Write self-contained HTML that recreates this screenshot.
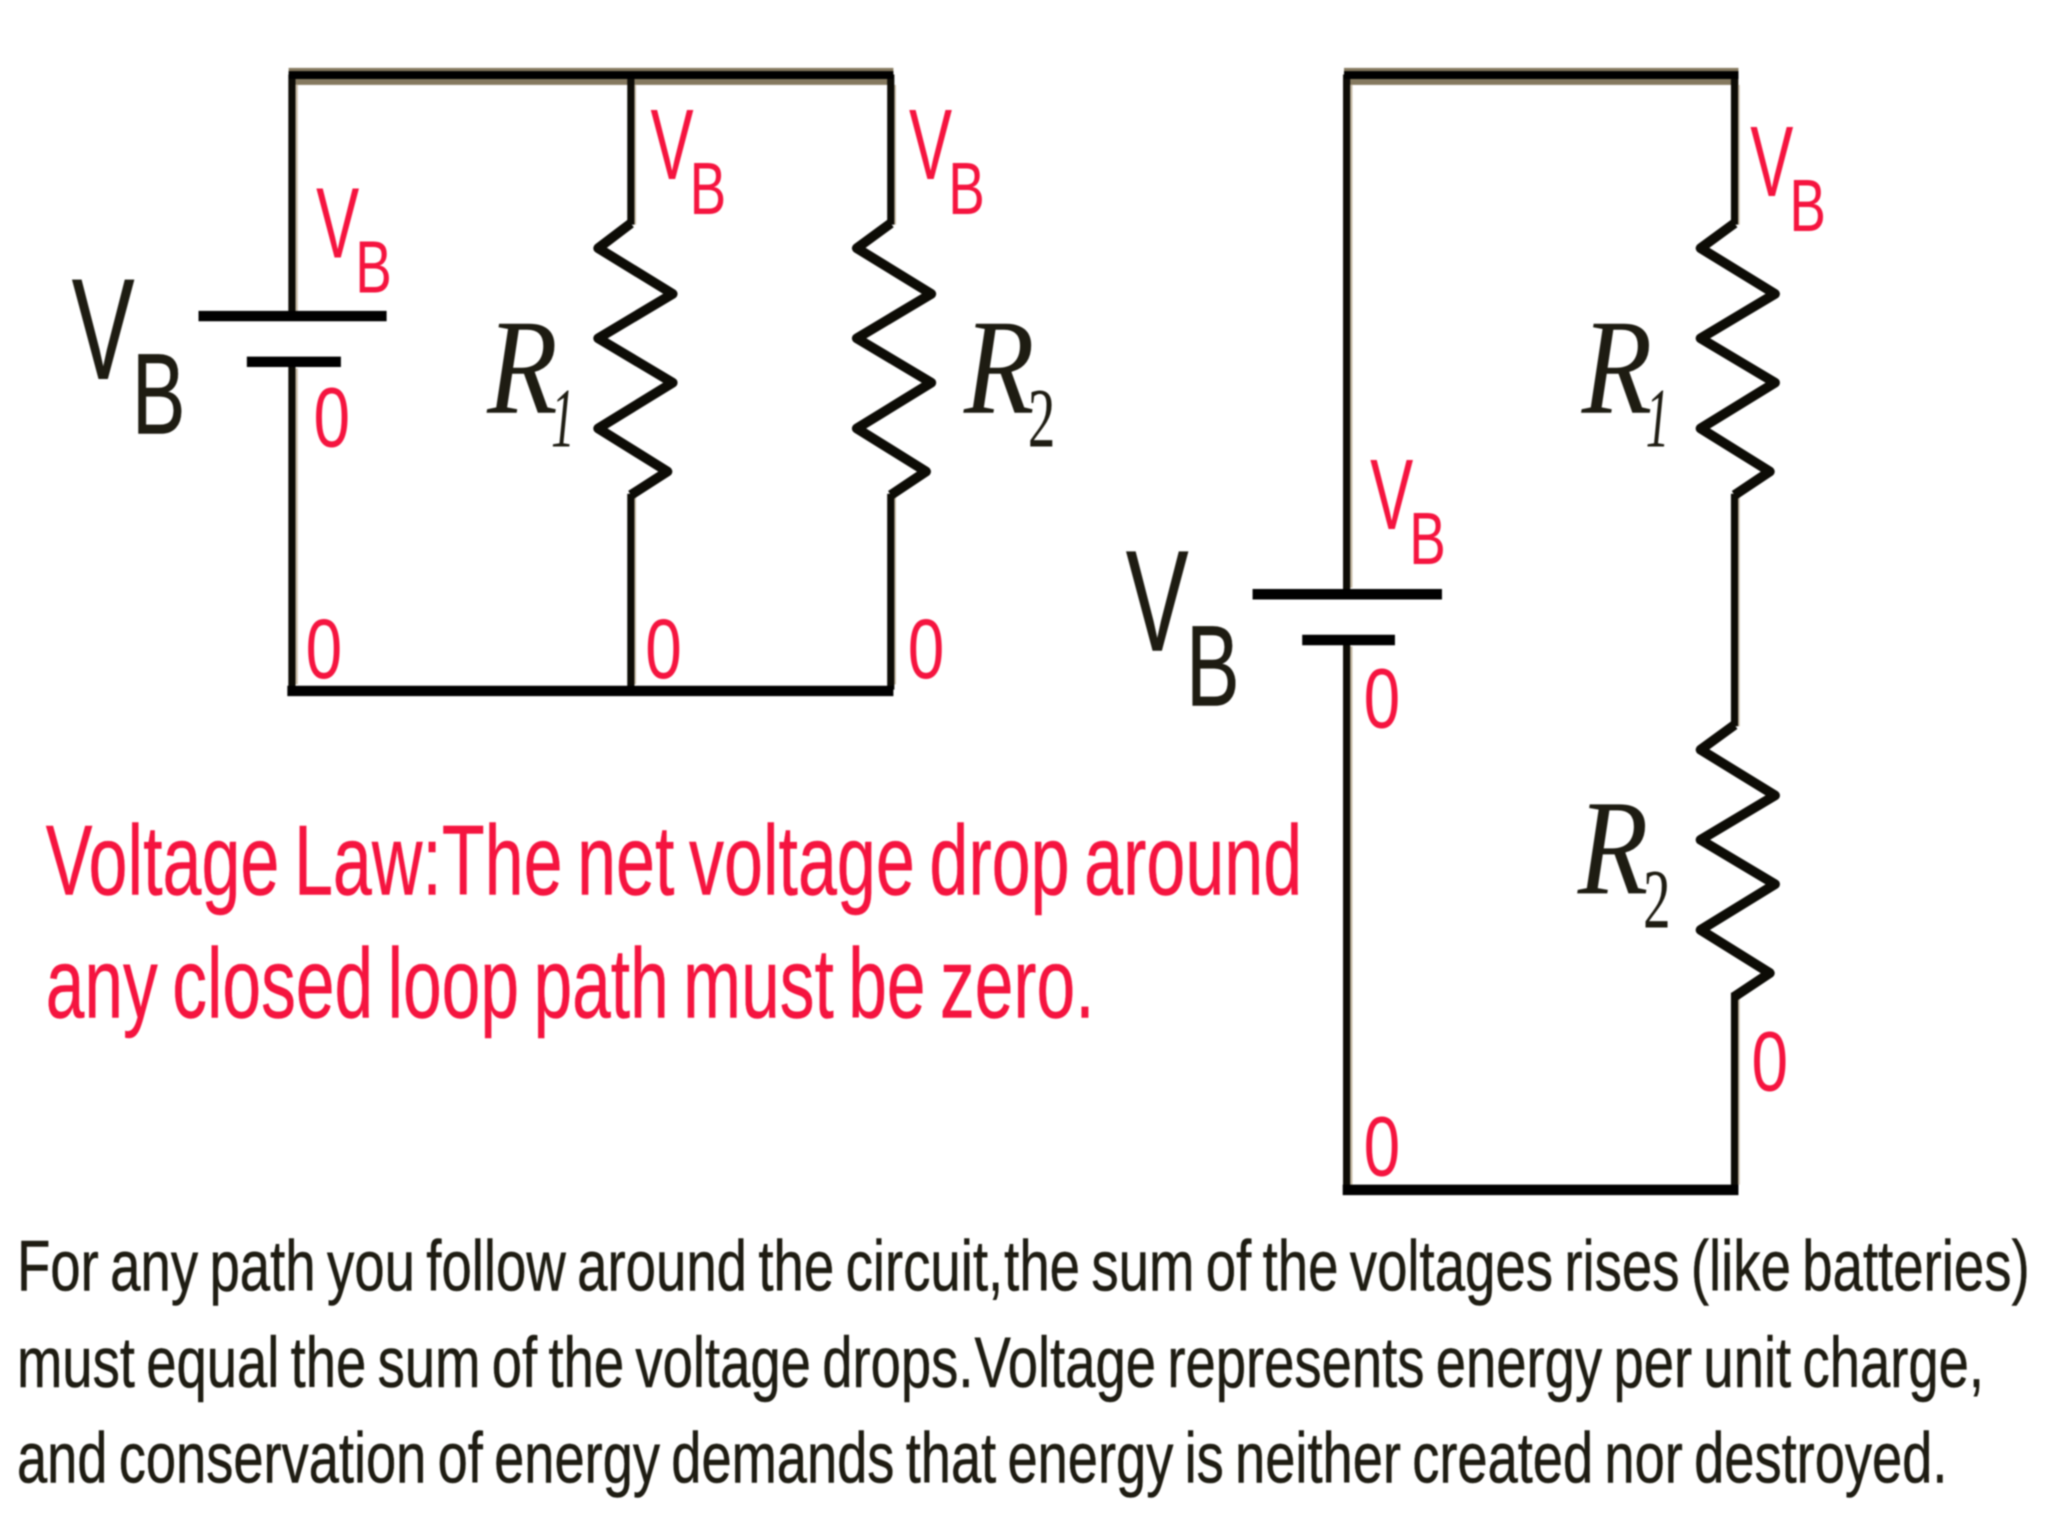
<!DOCTYPE html>
<html><head><meta charset="utf-8"><style>
html,body{margin:0;padding:0;background:#fff;width:2048px;height:1536px;overflow:hidden}
svg{display:block;filter:blur(.9px)}
text{font-family:"Liberation Sans",sans-serif}
.r{fill:#f5143f}
.k{fill:#1e1c12}
.i{font-family:"Liberation Serif",serif;font-style:italic;fill:#1e1c12}
.s{font-family:"Liberation Serif",serif;fill:#1e1c12}
.t{fill:none;stroke:#c8bca6;stroke-width:2}
.w{fill:none;stroke:#0d0c06;stroke-width:5.5}
.b{fill:none;stroke:#000;stroke-width:8}
.z{fill:none;stroke:#0d0c06;stroke-width:7.500;stroke-linejoin:round}
.red{stroke:#f5143f;stroke-width:.35;word-spacing:-.07em}
.blk{stroke:#1e1c12;stroke-width:.4;word-spacing:-.07em}
.big{stroke:#1e1c12;stroke-width:.4}
.tight{word-spacing:-.26em}
</style></head><body>
<svg xmlns="http://www.w3.org/2000/svg" width="2048" height="1536" viewBox="0 0 1568 1176">
<!-- Left circuit -->
<rect x="221" y="52" width="463" height="13" fill="#85795f"/>
<path class="t" d="M227 65V238M486 65V172M685 65V172M227 282V524M486 380V524M685 380V524"/>
<path class="w" d="M223.500 240V57M483 57V172M682 57V172M223.500 277V528M483 378V528M682 378V528"/>
<path d="M221 57.500H684" fill="none" stroke="#000" stroke-width="6"/>
<path class="b" d="M220 529H684"/>
<path class="z" d="M483 171L458 190L515 225L458 259L515 293L458 328L511 361L483 379"/>
<path class="z" d="M682 171L656 190L713 225L656 259L713 293L656 328L709 361L682 379"/>
<path d="M152 242H296M189 277H261" fill="none" stroke="#000" stroke-width="8"/>
<!-- Right circuit -->
<rect x="1029" y="52" width="302" height="13" fill="#85795f"/>
<path class="t" d="M1034.500 65V450M1331 65V172M1034.500 495V907M1331 380V556M1331 764V907"/>
<path class="w" d="M1031 453V57M1328 57V172M1031 490V911M1328 378V556M1328 760V911"/>
<path d="M1029 57.500H1331" fill="none" stroke="#000" stroke-width="6"/>
<path class="b" d="M1028 911H1331"/>
<path class="z" d="M1328 171L1302 190L1359 225L1302 259L1359 293L1302 328L1355 361L1328 379"/>
<path class="z" d="M1328 555L1302 574L1359 609L1302 643L1359 677L1302 712L1355 745L1328 763"/>
<path d="M959 455H1104M997 490H1068" fill="none" stroke="#000" stroke-width="8"/>
<!-- Big VB -->
<text class="k big" x="55" y="290" font-size="110" textLength="48" lengthAdjust="spacingAndGlyphs">V</text>
<text class="k big" x="101" y="332" font-size="88" textLength="41" lengthAdjust="spacingAndGlyphs">B</text>
<text class="k big" x="862" y="498" font-size="110" textLength="48" lengthAdjust="spacingAndGlyphs">V</text>
<text class="k big" x="908" y="540" font-size="88" textLength="41" lengthAdjust="spacingAndGlyphs">B</text>
<!-- Red VB -->
<text class="r" x="242" y="197" font-size="77" textLength="33" lengthAdjust="spacingAndGlyphs">V</text>
<text class="r" x="272" y="224" font-size="57" textLength="28" lengthAdjust="spacingAndGlyphs">B</text>
<text class="r" x="498" y="137" font-size="77" textLength="33" lengthAdjust="spacingAndGlyphs">V</text>
<text class="r" x="528" y="164" font-size="57" textLength="28" lengthAdjust="spacingAndGlyphs">B</text>
<text class="r" x="696" y="137" font-size="77" textLength="33" lengthAdjust="spacingAndGlyphs">V</text>
<text class="r" x="726" y="164" font-size="57" textLength="28" lengthAdjust="spacingAndGlyphs">B</text>
<text class="r" x="1340" y="150" font-size="77" textLength="33" lengthAdjust="spacingAndGlyphs">V</text>
<text class="r" x="1370" y="177" font-size="57" textLength="28" lengthAdjust="spacingAndGlyphs">B</text>
<text class="r" x="1049" y="405" font-size="77" textLength="33" lengthAdjust="spacingAndGlyphs">V</text>
<text class="r" x="1079" y="432" font-size="57" textLength="28" lengthAdjust="spacingAndGlyphs">B</text>
<!-- Red zeros -->
<text class="r" x="240" y="342" font-size="65" textLength="28" lengthAdjust="spacingAndGlyphs">0</text>
<text class="r" x="234" y="519" font-size="65" textLength="28" lengthAdjust="spacingAndGlyphs">0</text>
<text class="r" x="494" y="519" font-size="65" textLength="28" lengthAdjust="spacingAndGlyphs">0</text>
<text class="r" x="695" y="519" font-size="65" textLength="28" lengthAdjust="spacingAndGlyphs">0</text>
<text class="r" x="1044" y="557" font-size="65" textLength="28" lengthAdjust="spacingAndGlyphs">0</text>
<text class="r" x="1341" y="835" font-size="65" textLength="28" lengthAdjust="spacingAndGlyphs">0</text>
<text class="r" x="1044" y="900" font-size="65" textLength="28" lengthAdjust="spacingAndGlyphs">0</text>
<!-- R labels -->
<text class="i" x="373" y="316" font-size="104" textLength="54" lengthAdjust="spacingAndGlyphs">R</text>
<text class="i" x="422" y="342" font-size="65" textLength="18" lengthAdjust="spacingAndGlyphs">1</text>
<text class="i" x="738" y="316" font-size="104" textLength="54" lengthAdjust="spacingAndGlyphs">R</text>
<text class="s" x="787" y="342" font-size="65" textLength="21" lengthAdjust="spacingAndGlyphs">2</text>
<text class="i" x="1211" y="316" font-size="104" textLength="54" lengthAdjust="spacingAndGlyphs">R</text>
<text class="i" x="1260" y="342" font-size="65" textLength="18" lengthAdjust="spacingAndGlyphs">1</text>
<text class="i" x="1208" y="684" font-size="104" textLength="54" lengthAdjust="spacingAndGlyphs">R</text>
<text class="s" x="1258" y="710" font-size="65" textLength="21" lengthAdjust="spacingAndGlyphs">2</text>
<!-- Red statement -->
<text class="r red" x="35" y="685" font-size="76" textLength="962" lengthAdjust="spacingAndGlyphs">Voltage <tspan class="tight">Law: The</tspan> net voltage drop around</text>
<text class="r red" x="35" y="779" font-size="76" textLength="803" lengthAdjust="spacingAndGlyphs">any closed loop path must be zero.</text>
<!-- Black paragraph -->
<text class="k blk" x="13" y="988" font-size="55" textLength="1541" lengthAdjust="spacingAndGlyphs">For any path you follow around the <tspan class="tight">circuit, the</tspan> sum of the voltages rises (like batteries)</text>
<text class="k blk" x="13" y="1062" font-size="55" textLength="1506" lengthAdjust="spacingAndGlyphs">must equal the sum of the voltage <tspan class="tight">drops. Voltage</tspan> represents energy per unit charge,</text>
<text class="k blk" x="13" y="1135" font-size="55" textLength="1478" lengthAdjust="spacingAndGlyphs">and conservation of energy demands that energy is neither created nor destroyed.</text>
</svg>
</body></html>
